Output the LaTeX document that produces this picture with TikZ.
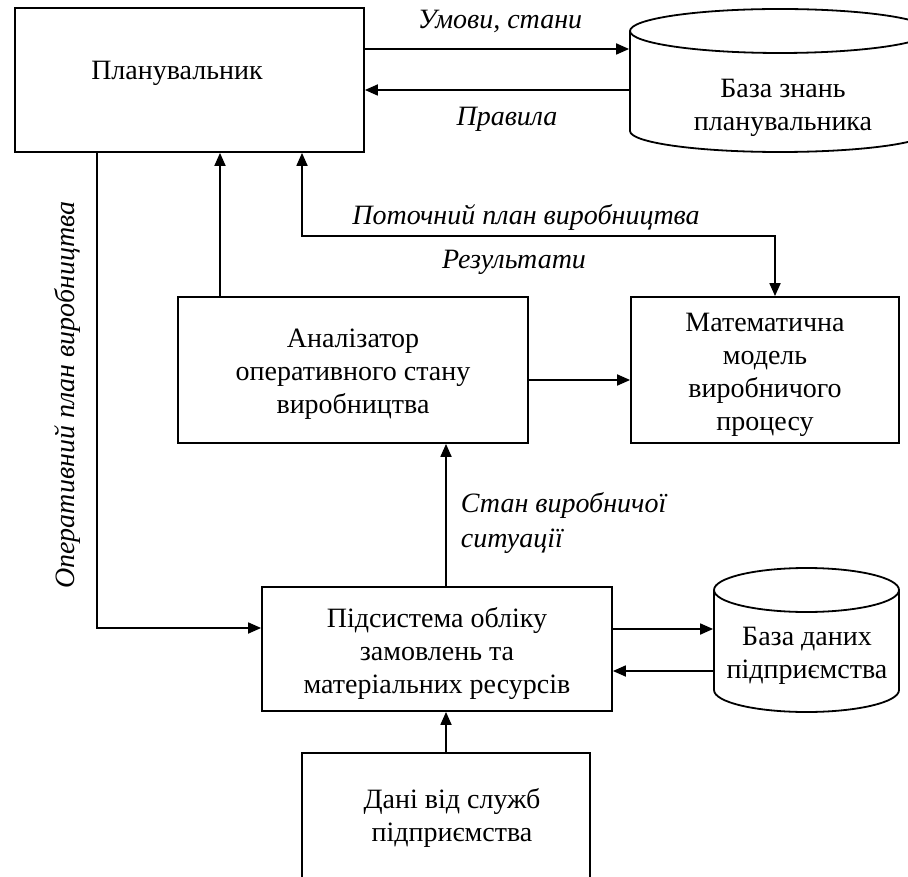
\documentclass[tikz,border=0pt]{standalone}
\usepackage{fontspec}
\setmainfont{Liberation Serif}
\usetikzlibrary{arrows.meta}
\begin{document}
\begin{tikzpicture}[x=0.5pt,y=-0.5pt,
  line width=0.9pt,
  font=\fontsize{14pt}{16.5pt}\selectfont,
  box/.style={draw, rectangle, inner sep=0pt},
  ghost/.style={rectangle, inner sep=0pt},
  txt/.style={align=center, inner sep=0pt},
  lbl/.style={font=\fontsize{14pt}{17.5pt}\selectfont\itshape, inner sep=0pt},
  arr/.style={-{Triangle[length=6.5pt,width=5.5pt]}},
  arrboth/.style={{Triangle[length=6.5pt,width=5.5pt]}-{Triangle[length=6.5pt,width=5.5pt]}}]
\useasboundingbox (0,0) rectangle (908,876);
\clip (0,0) rectangle (908,876);
\fill[white] (0,0) rectangle (908,876);

% boxes
\node[box, minimum width=174.5pt, minimum height=72pt] (plan) at (189.5,80) {};
\node[txt] (plantext) at (177,73) {Планувальник};
\node[box, minimum width=175pt, minimum height=73pt] (an) at (353,370) {};
\node[txt] (antext) at (353,374) {Аналізатор\\оперативного стану\\виробництва};
\node[box, minimum width=134pt, minimum height=73pt] (model) at (765,370) {};
\node[txt] (modeltext) at (765,375) {Математична\\модель\\виробничого\\процесу};
\node[box, minimum width=175pt, minimum height=62pt] (sub) at (437,649) {};
\node[txt] (subtext) at (437,653) {Підсистема обліку\\замовлень та\\матеріальних ресурсів};
\node[box, minimum width=144pt, minimum height=63.5pt] (data) at (446,816.5) {};
\node[txt] (datatext) at (452,818) {Дані від служб\\підприємства};

% knowledge base cylinder
\node[ghost, minimum width=150pt, minimum height=72pt] (kb) at (780,80) {};
\draw (780,31) ellipse [x radius=75pt, y radius=11pt];
\draw (630,31) -- (630,131) arc [start angle=180, end angle=360, x radius=75pt, y radius=10.5pt] -- (930,31);
\node[txt] (kbtext) at (783,108) {База знань\\планувальника};

% database cylinder
\node[ghost, minimum width=92.5pt, minimum height=72.5pt] (db) at (806.5,639.5) {};
\draw (806.5,590) ellipse [x radius=46.25pt, y radius=11pt];
\draw (714,590) -- (714,690) arc [start angle=180, end angle=360, x radius=46.25pt, y radius=11pt] -- (899,590);
\node[txt] (dbtext) at (807,656) {База даних\\підприємства};

% connectors
\draw[arr] (plan.east |- 0,49) -- (kb.west |- 0,49);
\draw[arr] (kb.west |- 0,90) -- (plan.east |- 0,90);
\draw[arr] (97,0 |- plan.south) -- (97,628) -- (sub.west |- 0,628);
\draw[arr] (220,0 |- an.north) -- (220,0 |- plan.south);
\draw[arrboth] (302,0 |- plan.south) -- (302,236) -- (775,236) -- (775,0 |- model.north);
\draw[arr] (an.east |- 0,380) -- (model.west |- 0,380);
\draw[arr] (446,0 |- sub.north) -- (446,0 |- an.south);
\draw[arr] (sub.east |- 0,629) -- (db.west |- 0,629);
\draw[arr] (db.west |- 0,671) -- (sub.east |- 0,671);
\draw[arr] (446,0 |- data.north) -- (446,0 |- sub.south);

% labels
\node[lbl] (l1) at (500,21) {Умови, стани};
\node[lbl] (l2) at (507,119) {Правила};
\node[lbl] (l3) at (526,217) {Поточний план виробництва};
\node[lbl] (l4) at (514,262) {Результати};
\node[lbl, align=left, anchor=west] (l5) at (460,523) {Стан виробничої\\ситуації};
\node[lbl, rotate=90] (l6) at (67,395) {Оперативний план виробництва};
\end{tikzpicture}
\end{document}
